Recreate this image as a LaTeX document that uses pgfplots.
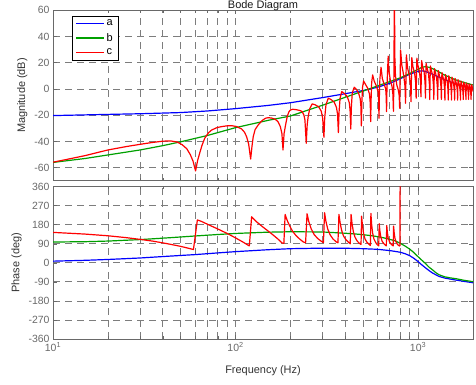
\documentclass[border=0pt]{standalone}
\usepackage{pgfplots}
\pgfplotsset{compat=1.18}
\usepackage{fontspec}
\setmainfont{Liberation Sans}
\definecolor{axisgray}{RGB}{105,105,105}
\definecolor{gridgray}{RGB}{125,125,125}
\definecolor{lblue}{RGB}{0,0,255}
\definecolor{lgreen}{RGB}{0,160,0}
\definecolor{lred}{RGB}{255,0,0}
\begin{document}
\begin{tikzpicture}
\begin{axis}[
  xmode=log, scale only axis, width=420bp,
  xmin=10, xmax=2000,
  xtick={10,100,1000},
  minor xtick={20,30,40,50,60,70,80,90,200,300,400,500,600,700,800,900},
  xmajorgrids, xminorgrids, ymajorgrids,
  major grid style={gridgray, line width=0.85bp, dash pattern=on 7bp off 5bp},
  minor grid style={gridgray, line width=0.85bp, dash pattern=on 7bp off 5bp},
  axis line style={axisgray, line width=0.8bp},
  tick style={axisgray, line width=0.6bp},
  tick align=inside,
  major tick length=4bp, minor tick length=2.5bp,
  tick label style={font=\fontsize{10.5}{12}\selectfont, text=axisgray},
  label style={font=\fontsize{11}{13}\selectfont, text=black!80},
  every axis plot/.append style={line width=1.2bp, line join=round},
  at={(53bp,204.2bp)}, anchor=south west,
  height=170.6bp,
  ymin=-70, ymax=60,
  ytick={-60,-40,-20,0,20,40,60},
  yticklabels={-60,-40,-20,0,20,40,60},
  xticklabels={,,},
  ylabel={Magnitude (dB)},
  title={Bode Diagram},
  every axis title/.style={at={(0.5,1)}, anchor=base, yshift=1.8bp, font=\fontsize{11}{13}\selectfont, text=black!90},
  legend style={at={(0,1)}, anchor=north west, xshift=19.3bp, yshift=-5.5bp,
    draw=black, fill=white,
    font=\fontsize{11}{12}\selectfont, inner xsep=3bp, inner ysep=2bp,
    row sep=2bp},
  legend cell align=left,
  legend image code/.code={\draw[#1] (0bp,0bp) -- (28bp,0bp);},
  legend image post style={line width=1.2bp},
]
\addplot[draw=lblue] table {
10 -20.3
20 -19.4
30 -18.9
50 -18.0
70 -16.8
100 -15.0
150 -12.6
200 -10.5
300 -6.6
400 -3.6
500 -1.2
600 1.3
700 4.3
800 7.8
900 11.2
1000 13.5
1050 13.8
1100 13.3
1200 11.2
1300 9.0
1400 7.0
1600 4.0
1800 2.0
2000 0.2
};
\addlegendentry{a}
\addplot[draw=lgreen] table {
10 -56.0
15 -53.0
20 -50.3
30 -46.5
40 -43.2
50 -40.3
70 -35.5
100 -29.5
150 -24.0
200 -20.6
300 -12.4
400 -6.3
500 -1.6
600 2.3
700 5.6
800 8.5
900 11.8
1000 15.0
1050 16.5
1100 17.0
1150 16.5
1200 15.5
1300 13.0
1400 10.5
1600 7.0
1800 4.8
2000 3.0
};
\addlegendentry{b}
\addplot[draw=lred] table {
10 -55.8
12 -53.6
15 -50.8
20 -46.5
25 -44.0
30 -42.2
35 -40.8
40 -39.8
44 -39.6
48 -40.5
51 -42.5
54 -45.5
56.5 -50.0
58.5 -55.0
60.4 -62.5
62 -54.5
63.6 -49.0
65.5 -43.0
67.8 -37.6
71 -33.5
74 -31.3
79 -29.5
84 -28.7
90 -28.1
95 -28.0
101 -28.6
108 -30.5
112 -33.0
115 -36.4
118 -42.0
121 -53.4
123 -44.0
125 -36.4
128 -31.0
133 -27.5
140 -24.0
146 -22.3
151 -21.9
158 -22.2
165 -23.1
171 -25.0
176 -28.7
179.5 -34.0
182 -46.5
184.5 -34.0
188 -27.5
192 -21.0
196 -17.5
200 -16.0
206 -15.5
215 -15.8
225 -16.4
232 -17.3
237 -20.0
240 -23.6
244 -41.4
247 -27.0
250 -21.1
255 -15.0
263 -11.4
272 -12.0
285 -13.5
295 -17.0
300 -22.0
305 -36.8
308 -22.0
313 -12.0
322 -7.1
333 -8.0
347 -10.0
357 -14.0
362 -19.0
366 -33.3
369 -18.0
374 -7.0
382 -2.0
395 -3.5
410 -6.0
420 -10.5
424 -16.0
428 -30.5
431 -14.0
436 -3.0
447 1.3
460 -0.5
472 -3.0
482 -7.5
486 -13.0
489 -28.2
492 -11.0
496 1.0
503 6.1
515 3.5
530 0.5
542 -4.0
547 -11.0
550 -24.9
553 -8.0
557 5.0
564 10.7
575 6.0
590 2.5
604 -2.0
608 -9.0
611 -22.4
614 -5.0
618 8.0
627 16.5
637 8.0
652 3.5
665 0.0
669 -6.0
672 -17.3
675 -2.0
679 10.0
686 25.0
692 14.0
706 6.0
720 2.0
728 -4.0
733 -17.0
737 5.0
742 80.0
746 25.0
752 10.0
765 3.0
780 -1.0
788 -5.0
793 -14.7
797 5.0
802 29.7
815 18.0
835 10.0
848 2.0
854 -10.9
858 5.0
863 25.9
876 16.0
896 10.0
909 3.0
915 -9.7
919 6.0
924 23.9
937 17.0
957 12.0
970 5.0
976 -7.1
980 8.0
985 23.4
998 18.0
1018 13.0
1031 6.0
1037 -6.0
1041 8.0
1046 21.6
1059 17.0
1079 13.0
1092 5.0
1098 -7.0
1102 7.0
1107 19.5
1120 16.0
1140 12.0
1153 4.0
1159 -8.0
1163 6.0
1168 17.5
1181 14.5
1201 10.5
1214 3.0
1220 -8.0
1224 5.0
1229 15.5
1242 13.0
1262 9.0
1275 2.0
1281 -8.0
1285 4.0
1290 14.0
1303 11.5
1323 7.5
1336 1.0
1342 -8.0
1346 3.0
1351 12.5
1364 10.0
1384 6.5
1397 0.0
1403 -8.5
1407 2.0
1412 11.0
1425 9.0
1445 5.5
1458 -0.5
1464 -8.5
1468 1.5
1473 10.0
1486 8.0
1506 4.5
1519 -1.0
1525 -8.5
1529 1.0
1534 9.0
1547 7.0
1567 3.5
1580 -1.5
1586 -8.5
1590 0.5
1595 8.0
1608 6.0
1628 3.0
1641 -2.0
1647 -8.5
1651 0.0
1656 7.0
1669 5.5
1689 2.0
1702 -2.5
1708 -8.5
1712 -0.5
1717 6.0
1730 4.5
1750 1.5
1763 -3.0
1769 -8.0
1773 -1.0
1778 5.2
1791 4.0
1811 1.0
1824 -3.0
1830 -8.0
1834 -1.5
1839 4.5
1852 3.5
1872 0.5
1885 -3.5
1891 -8.0
1895 -2.0
1900 3.8
1913 3.0
1933 0.0
1946 -4.0
1952 -8.0
1956 -2.0
1961 3.2
1974 2.5
1994 -0.5
2000 -2.0
};
\addlegendentry{c}
\end{axis}
\begin{axis}[
  xmode=log, scale only axis, width=420bp,
  xmin=10, xmax=2000,
  xtick={10,100,1000},
  minor xtick={20,30,40,50,60,70,80,90,200,300,400,500,600,700,800,900},
  xmajorgrids, xminorgrids, ymajorgrids,
  major grid style={gridgray, line width=0.85bp, dash pattern=on 7bp off 5bp},
  minor grid style={gridgray, line width=0.85bp, dash pattern=on 7bp off 5bp},
  axis line style={axisgray, line width=0.8bp},
  tick style={axisgray, line width=0.6bp},
  tick align=inside,
  major tick length=4bp, minor tick length=2.5bp,
  tick label style={font=\fontsize{10.5}{12}\selectfont, text=axisgray},
  label style={font=\fontsize{11}{13}\selectfont, text=black!80},
  every axis plot/.append style={line width=1.2bp, line join=round},
  at={(53bp,46bp)}, anchor=south west,
  height=152.3bp,
  ymin=-360, ymax=360,
  ytick={-360,-270,-180,-90,0,90,180,270,360},
  yticklabels={-360,-270,-180,-90,0,90,180,270,360},
  xticklabels={10\textsuperscript{1},10\textsuperscript{2},10\textsuperscript{3}},
  xlabel={Frequency (Hz)},
  xlabel style={yshift=-7bp},
  ylabel={Phase (deg)},
]
\addplot[draw=lblue] table {
10 8
15 12
20 16
30 23
44 32
60 39
80 47
100 53
150 62
200 67
300 69.5
400 69
500 67
600 64
700 58
750 54
800 50
850 43
900 34
950 21
1000 6
1050 -10
1100 -24
1150 -37
1200 -48
1300 -64
1400 -72
1600 -81
1800 -88
2000 -94
};
\addplot[draw=lgreen] table {
10 98.5
15 100
20 103
30 110
44 119
60 127
80 134
100 139
150 145
200 147
300 146
400 140
475 135
550 129
600 124
650 118
700 111
750 104
800 92
850 79
900 65
950 48
1000 29
1050 12
1100 -4
1150 -21
1200 -33
1250 -46
1300 -56
1400 -66
1500 -71
1614 -75
1800 -83
2000 -89
};
\addplot[draw=lred] table {
10 144
15 136
20 128
25 119.5
30 111
35 103
40 94.5
45 86
50 78
54 71
57 66
58.8 63
61.8 203
65 196
70 183
80 160
90 139
100 118
110 98
119 80
122.5 218
130 195
140 172
150 152
160 133
170 114
180 94
184 92
187 229
192 200
198 175
205 150
215 128
225 112
235 99
242 95
246.5 232
252 195
260 160
270 133
282 115
295 102
303 96
307.5 237
313 195
320 160
330 132
342 113
355 100
364 95
368.5 229
374 190
381 155
390 128
402 110
415 98
425 90
429.5 229
435 185
442 148
451 122
463 104
476 93
487 87
490.5 221
496 175
503 138
512 113
525 97
538 88
548 82
551.5 234
557 180
564 140
573 113
586 96
598 86
609 80
612.5 185
618 150
625 122
635 103
650 90
670 80
673.5 177
679 145
686 118
697 100
712 88
731 80
734.5 174
740 142
747 116
758 98
773 86
790 80
796 80
798 460
};
\end{axis}
\pgfresetboundingbox
\path[use as bounding box] (0bp,0bp) rectangle (476bp,385bp);
\end{tikzpicture}
\end{document}
